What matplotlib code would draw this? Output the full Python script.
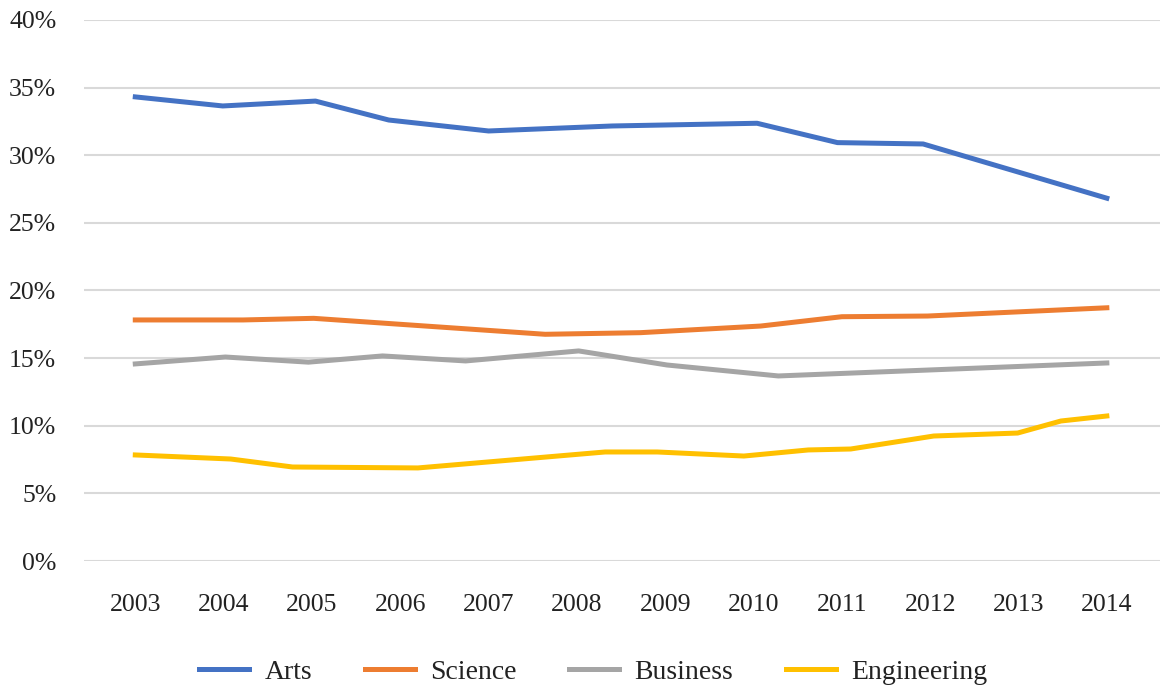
import numpy as np
import matplotlib.pyplot as plt
from matplotlib.ticker import FuncFormatter

# values (x = fractional year, y = percent)
arts_x = [2003, 2003.99, 2005.04, 2005.87, 2007.0, 2008.4, 2010.04, 2010.95, 2011.92, 2014.0]
arts_y = [34.31, 33.64, 34.0, 32.6, 31.79, 32.16, 32.36, 30.93, 30.83, 26.82]

science_x = [2003, 2004.22, 2005.02, 2007.64, 2008.72, 2010.08, 2011.0, 2011.97, 2014.0]
science_y = [17.82, 17.82, 17.94, 16.76, 16.88, 17.37, 18.06, 18.11, 18.72]

business_x = [2003, 2004.02, 2004.96, 2005.8, 2006.74, 2008.02, 2009.02, 2010.28, 2014.0]
business_y = [14.57, 15.08, 14.7, 15.16, 14.79, 15.53, 14.49, 13.68, 14.64]

eng_x = [2003, 2004.08, 2004.78, 2006.2, 2008.32, 2008.91, 2009.89, 2010.62, 2011.1,
         2012.04, 2012.99, 2013.48, 2014.0]
eng_y = [7.84, 7.54, 6.95, 6.88, 8.06, 8.06, 7.76, 8.21, 8.28, 9.24, 9.46, 10.35, 10.72]

years = list(range(2003, 2015))
y_ticks = [0, 5, 10, 15, 20, 25, 30, 35, 40]

plt.rcParams['font.family'] = ['Liberation Serif', 'DejaVu Serif']

fig = plt.figure(figsize=(11.61, 6.87), dpi=100)
ax = fig.add_axes([0.0724, 0.1834, 0.9266, 0.7876])

ax.plot(arts_x, arts_y, color='#4472C4', lw=3.6, label='Arts', solid_joinstyle='round')
ax.plot(science_x, science_y, color='#ED7D31', lw=3.6, label='Science', solid_joinstyle='round')
ax.plot(business_x, business_y, color='#A5A5A5', lw=3.6, label='Business', solid_joinstyle='round')
ax.plot(eng_x, eng_y, color='#FFC000', lw=3.6, label='Engineering', solid_joinstyle='round')

ax.set_xlim(2002.42, 2014.6)
ax.set_ylim(0, 40)
ax.set_xticks(years)
ax.set_yticks(y_ticks)
ax.yaxis.set_major_formatter(FuncFormatter(lambda v, p: '%d%%' % v))
ax.grid(axis='y', color='#D9D9D9', lw=1.5)
ax.set_axisbelow(True)
for s in ax.spines.values():
    s.set_visible(False)
ax.tick_params(length=0, labelsize=18.5, labelcolor='#222222')
ax.tick_params(axis='y', pad=20)
ax.tick_params(axis='x', pad=24)

fig.legend(loc='center', bbox_to_anchor=(0.511, 0.022), ncol=4, frameon=False,
           fontsize=20, handlelength=1.8, handletextpad=0.55, columnspacing=1.9,
           labelcolor='#222222')

plt.savefig('out.png', dpi=100)
